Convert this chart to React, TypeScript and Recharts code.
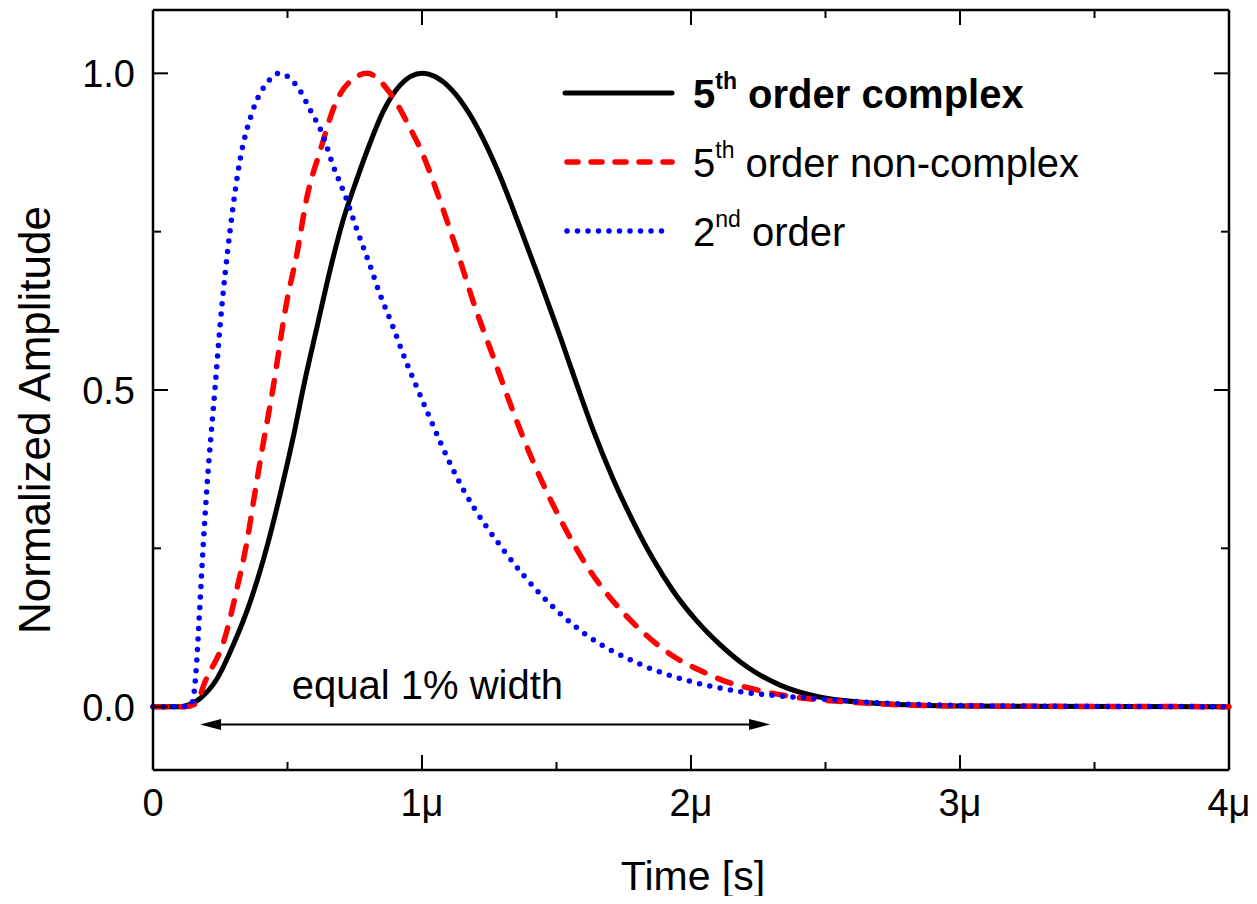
import * as React from "react"
import { LineChart, Line, XAxis, YAxis, Legend, ReferenceLine, ReferenceDot } from "recharts"

const FONT = '"Liberation Sans", Arial, Helvetica, sans-serif'

// time in microseconds, amplitude normalized
const complexT = [0, 0.1, 0.14, 0.175, 0.238, 0.297, 0.361, 0.424, 0.483, 0.527, 0.557, 0.61, 0.658, 0.706, 0.758, 0.807, 0.855, 0.918, 1.0, 1.104, 1.178, 1.216, 1.29, 1.364, 1.439, 1.513, 1.576, 1.636, 1.71, 1.784, 1.859, 1.933, 2.022, 2.108, 2.208, 2.331, 2.468, 2.7, 3.0, 4.0]
const complexV = [0, 0, 0.004, 0.013, 0.044, 0.096, 0.165, 0.253, 0.354, 0.437, 0.5, 0.6, 0.689, 0.767, 0.833, 0.89, 0.939, 0.981, 1.0, 0.977, 0.935, 0.906, 0.838, 0.757, 0.672, 0.585, 0.508, 0.437, 0.36, 0.293, 0.233, 0.183, 0.135, 0.098, 0.063, 0.034, 0.016, 0.005, 0.001, 0]

const nonComplexT = [0, 0.12, 0.16, 0.193, 0.268, 0.312, 0.349, 0.379, 0.409, 0.442, 0.498, 0.535, 0.572, 0.621, 0.677, 0.758, 0.796, 0.881, 0.955, 1.0, 1.067, 1.13, 1.19, 1.271, 1.316, 1.376, 1.42, 1.465, 1.513, 1.561, 1.613, 1.673, 1.747, 1.836, 1.933, 2.045, 2.134, 2.23, 2.357, 2.6, 3.0, 4.0]
const nonComplexV = [0, 0, 0.005, 0.039, 0.11, 0.186, 0.26, 0.338, 0.414, 0.492, 0.641, 0.715, 0.804, 0.877, 0.951, 0.995, 1.0, 0.969, 0.914, 0.875, 0.799, 0.72, 0.64, 0.545, 0.492, 0.425, 0.38, 0.338, 0.297, 0.259, 0.222, 0.186, 0.149, 0.112, 0.08, 0.055, 0.039, 0.028, 0.017, 0.007, 0.001, 0]

const secondT = [0, 0.1, 0.14, 0.152, 0.159, 0.171, 0.186, 0.2, 0.23, 0.249, 0.286, 0.323, 0.37, 0.428, 0.468, 0.543, 0.587, 0.628, 0.669, 0.717, 0.758, 0.803, 0.844, 0.892, 0.937, 0.985, 1.152, 1.309, 1.446, 1.602, 1.8, 1.98, 2.18, 2.46, 2.8, 3.2, 4.0]
const secondV = [0, 0, 0.002, 0.02, 0.05, 0.134, 0.25, 0.343, 0.5, 0.6, 0.75, 0.862, 0.94, 0.987, 1.0, 0.975, 0.94, 0.906, 0.855, 0.804, 0.753, 0.701, 0.651, 0.6, 0.549, 0.5, 0.344, 0.244, 0.175, 0.116, 0.069, 0.042, 0.024, 0.013, 0.004, 0.001, 0]

const xDomain = [0, 4]
const yDomain = [-0.1, 1.1]
const xTicks = [0, 0.5, 1, 1.5, 2, 2.5, 3, 3.5, 4]
const yTicks = [0, 0.25, 0.5, 0.75, 1.0]

// arrow for "equal 1% width"
const arrowT = [0.175, 2.294]
const arrowY = -0.028

const zip = (t: number[], v: number[]) => t.map((x, i) => ({ t: x, v: v[i] }))
const complexData = zip(complexT, complexV)
const nonComplexData = zip(nonComplexT, nonComplexV)
const secondData = zip(secondT, secondV)

const isMajor = (v: number) => Math.abs(v - Math.round(v)) < 1e-6
const isMajorY = (v: number) => Math.abs(v * 2 - Math.round(v * 2)) < 1e-6
const fmtX = (v: number) => (v === 0 ? "0" : `${v}μ`)

function BottomTick({ x, y, payload }: any) {
  const major = isMajor(payload.value)
  return (
    <g>
      <line x1={x} x2={x} y1={y} y2={y - (major ? 15 : 8)} stroke="#000" strokeWidth={2} />
      {major && (
        <text x={x} y={y + 46} textAnchor="middle" fontSize={38} fontFamily={FONT} fill="#000">
          {fmtX(payload.value)}
        </text>
      )}
    </g>
  )
}

function LeftTick({ x, y, payload }: any) {
  const major = isMajorY(payload.value)
  return (
    <g>
      <line x1={x} x2={x + (major ? 15 : 8)} y1={y} y2={y} stroke="#000" strokeWidth={2} />
      {major && (
        <text x={x - 18} y={y + 14} textAnchor="end" fontSize={38} fontFamily={FONT} fill="#000">
          {payload.value.toFixed(1)}
        </text>
      )}
    </g>
  )
}

// mirrored ticks on the top edge (drawn from a vertical reference line)
function TopTickShape(props: any) {
  const { x1, y1, y2, tickValue } = props
  const top = Math.min(y1, y2)
  const len = isMajor(tickValue) ? 15 : 8
  return <line x1={x1} x2={x1} y1={top} y2={top + len} stroke="#000" strokeWidth={2} />
}

// mirrored ticks on the right edge (drawn from a horizontal reference line)
function RightTickShape(props: any) {
  const { x1, x2, y1, tickValue } = props
  const right = Math.max(x1, x2)
  const len = isMajorY(tickValue) ? 15 : 8
  return <line x1={right} x2={right - len} y1={y1} y2={y1} stroke="#000" strokeWidth={2} />
}

function ArrowShape(props: any) {
  const { x1, y1, x2 } = props
  const y = y1
  return (
    <g>
      <line x1={x1 + 15} x2={x2 - 15} y1={y} y2={y} stroke="#000" strokeWidth={2} />
      <polygon points={`${x1},${y} ${x1 + 21},${y - 5.5} ${x1 + 21},${y + 5.5}`} fill="#000" />
      <polygon points={`${x2},${y} ${x2 - 21},${y - 5.5} ${x2 - 21},${y + 5.5}`} fill="#000" />
    </g>
  )
}

function LegendBox() {
  const rowY = [38, 107, 176]
  const tx = 133
  return (
    <svg width={560} height={210} style={{ display: "block", overflow: "visible" }}>
      <line x1={5} x2={112} y1={rowY[0]} y2={rowY[0]} stroke="#000" strokeWidth={5} strokeLinecap="round" />
      <line x1={7} x2={112} y1={rowY[1]} y2={rowY[1]} stroke="#ff0000" strokeWidth={5.5} strokeDasharray="11 13" strokeLinecap="round" />
      <line x1={7} x2={112} y1={rowY[2]} y2={rowY[2]} stroke="#0000ff" strokeWidth={5.5} strokeDasharray="0 10.5" strokeLinecap="round" />
      <text x={tx} y={rowY[0] + 15} fontSize={40} fontWeight="bold" fontFamily={FONT} fill="#000">
        5<tspan fontSize={23} dy={-19}>th</tspan>
        <tspan dy={19}> order complex</tspan>
      </text>
      <text x={tx} y={rowY[1] + 15} fontSize={40} fontFamily={FONT} fill="#000">
        5<tspan fontSize={23} dy={-19}>th</tspan>
        <tspan dy={19}> order non-complex</tspan>
      </text>
      <text x={tx} y={rowY[2] + 15} fontSize={40} fontFamily={FONT} fill="#000">
        2<tspan fontSize={23} dy={-19}>nd</tspan>
        <tspan dy={19}> order</tspan>
      </text>
    </svg>
  )
}

const frame = { stroke: "#000", strokeWidth: 2.5 }

export default function App() {
  return (
    <div style={{ margin: -8, width: 1257, height: 904, background: "#fff" }}>
      <LineChart width={1257} height={904} margin={{ top: 10, right: 28, bottom: 0, left: 0 }}>
        <XAxis
          type="number"
          dataKey="t"
          domain={xDomain}
          ticks={xTicks}
          interval={0}
          tick={(p: any) => <BottomTick {...p} />}
          tickLine={false}
          tickSize={0}
          tickMargin={0}
          height={134}
          axisLine={frame}
          label={{
            value: "Time [s]",
            content: (p: any) => {
              const vb = p.viewBox
              return (
                <text x={vb.x + vb.width / 2 + 2} y={vb.y + 120} textAnchor="middle" fontSize={41} fontFamily={FONT} fill="#000">
                  Time [s]
                </text>
              )
            },
          }}
        />
        <YAxis
          type="number"
          domain={yDomain}
          ticks={yTicks}
          interval={0}
          tick={(p: any) => <LeftTick {...p} />}
          tickLine={false}
          tickSize={0}
          tickMargin={0}
          width={153}
          axisLine={frame}
          label={{
            value: "Normalized Amplitude",
            content: (p: any) => {
              const vb = p.viewBox
              const cx = vb.x + 50
              const cy = vb.y + vb.height / 2 + 30
              return (
                <text x={cx} y={cy} transform={`rotate(-90, ${cx}, ${cy})`} textAnchor="middle" fontSize={44} fontFamily={FONT} fill="#000">
                  Normalized Amplitude
                </text>
              )
            },
          }}
        />
        {/* top and right frame edges */}
        <ReferenceLine y={yDomain[1]} stroke="#000" strokeWidth={2.5} />
        <ReferenceLine x={xDomain[1]} stroke="#000" strokeWidth={2.5} />
        {xTicks.map((v) => (
          <ReferenceLine key={`tx${v}`} x={v} shape={(p: any) => <TopTickShape {...p} tickValue={v} />} />
        ))}
        {yTicks.map((v) => (
          <ReferenceLine key={`ty${v}`} y={v} shape={(p: any) => <RightTickShape {...p} tickValue={v} />} />
        ))}
        <Line data={complexData} dataKey="v" type="monotone" stroke="#000" strokeWidth={5} dot={false} activeDot={false} isAnimationActive={false} />
        <Line data={nonComplexData} dataKey="v" type="monotone" stroke="#ff0000" strokeWidth={5.5} strokeDasharray="14 14" strokeLinecap="round" dot={false} activeDot={false} isAnimationActive={false} />
        <Line data={secondData} dataKey="v" type="monotone" stroke="#0000ff" strokeWidth={5.5} strokeDasharray="0 10.5" strokeLinecap="round" dot={false} activeDot={false} isAnimationActive={false} />
        <ReferenceLine
          segment={[{ x: arrowT[0], y: arrowY }, { x: arrowT[1], y: arrowY }]}
          shape={(p: any) => <ArrowShape {...p} />}
        />
        <ReferenceDot
          x={1.02}
          y={0.035}
          r={0}
          fill="none"
          stroke="none"
          label={{ value: "equal 1% width", position: "center", fontSize: 40, fontFamily: FONT, fill: "#000" }}
        />
        <Legend
          layout="vertical"
          align="center"
          verticalAlign="middle"
          wrapperStyle={{ left: 560, top: 55, width: 560 }}
          content={() => <LegendBox />}
        />
      </LineChart>
    </div>
  )
}
